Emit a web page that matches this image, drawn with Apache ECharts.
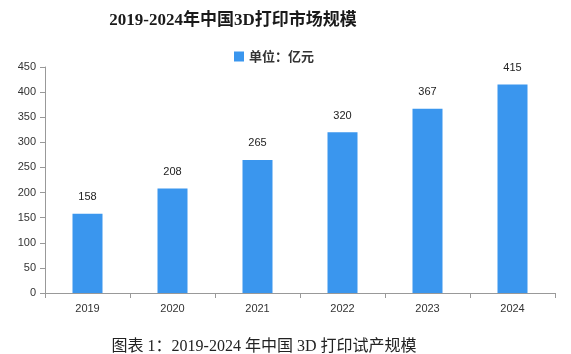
<!DOCTYPE html>
<html>
<head>
<meta charset="utf-8">
<script src="https://cdn.jsdelivr.net/npm/echarts@6/dist/echarts.min.js"></script>
<style>
  html, body { margin: 0; padding: 0; background: #fff; }
  #chart { width: 571px; height: 354px; }
</style>
</head>
<body>
<div id="chart"></div>
<script>
// 数据
const years = ['2019', '2020', '2021', '2022', '2023', '2024'];
const marketSize = [158, 208, 265, 320, 367, 415];
const yTicks = [0, 50, 100, 150, 200, 250, 300, 350, 400, 450];

const chart = echarts.init(document.getElementById('chart'));

const option = {
  animation: false,
  backgroundColor: '#fff',
  title: [
    {
      text: '2019-2024年中国3D打印市场规模',
      left: 228,
      top: 7,
      textAlign: 'center',
      textStyle: {
        fontFamily: '"Liberation Serif", "Noto Sans CJK SC", serif',
        fontSize: 17,
        fontWeight: 'bold',
        color: '#1a1a1a'
      }
    },
    {
      text: '图表 1：2019-2024 年中国 3D 打印试产规模',
      left: 259,
      top: 334,
      textAlign: 'center',
      textStyle: {
        fontFamily: '"Liberation Serif", "Noto Sans CJK SC", serif',
        fontSize: 16,
        fontWeight: 'normal',
        color: '#222'
      }
    }
  ],
  legend: {
    data: ['单位：亿元'],
    left: 229,
    top: 45,
    icon: 'rect',
    itemWidth: 10,
    itemHeight: 10,
    itemGap: 4,
    textStyle: {
      fontSize: 13,
      fontWeight: 'bold',
      color: '#333',
      fontFamily: '"Noto Sans CJK SC", sans-serif'
    }
  },
  grid: { left: 45, right: 16, top: 67, bottom: 61, containLabel: false },
  xAxis: {
    type: 'category',
    data: years,
    axisLine: { lineStyle: { color: '#999' } },
    axisTick: { show: true, alignWithLabel: false, length: 5, lineStyle: { color: '#999' } },
    axisLabel: { color: '#333', fontSize: 11, margin: 10, fontFamily: 'Arial, sans-serif' }
  },
  yAxis: {
    type: 'value',
    min: yTicks[0],
    max: yTicks[yTicks.length - 1],
    interval: 50,
    axisLine: { show: true, lineStyle: { color: '#999' } },
    axisTick: { show: true, length: 5, lineStyle: { color: '#999' } },
    splitLine: { show: false },
    axisLabel: { color: '#333', fontSize: 11, margin: 9, fontFamily: 'Arial, sans-serif' }
  },
  series: [
    {
      name: '单位：亿元',
      type: 'bar',
      data: marketSize,
      barWidth: 30,
      itemStyle: { color: '#3a96ee' },
      label: {
        show: true,
        position: 'top',
        distance: 11,
        color: '#222',
        fontSize: 11,
        fontFamily: 'Arial, sans-serif'
      }
    }
  ]
};

chart.setOption(option);
</script>
</body>
</html>
